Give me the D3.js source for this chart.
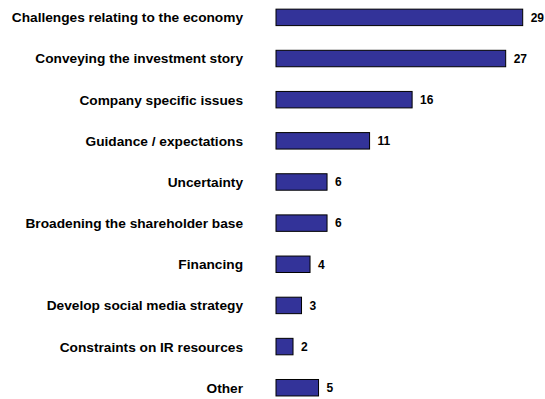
<!DOCTYPE html>
<html>
<head>
<meta charset="utf-8">
<script src="https://cdn.jsdelivr.net/npm/d3@7"></script>
<style>
  html, body { margin: 0; padding: 0; background: #ffffff; }
  svg { display: block; }
</style>
</head>
<body>
<svg id="chart" width="545" height="399"></svg>
<script>
// Issues cited by respondents
const categories = [
  "Challenges relating to the economy",
  "Conveying the investment story",
  "Company specific issues",
  "Guidance / expectations",
  "Uncertainty",
  "Broadening the shareholder base",
  "Financing",
  "Develop social media strategy",
  "Constraints on IR resources",
  "Other"
];
const values = [29, 27, 16, 11, 6, 6, 4, 3, 2, 5];

const svg = d3.select("#chart");

const x = d3.scaleLinear().domain([0, 29]).range([276, 522.7]);
const y = d3.scaleBand()
  .domain(categories)
  .range([-3.2, 408.3])
  .paddingInner(0.6)
  .paddingOuter(0.3);

const font = "'Liberation Sans', Arial, sans-serif";

// bars
svg.append("g")
  .selectAll("rect")
  .data(categories)
  .join("rect")
  .attr("x", x(0))
  .attr("y", d => y(d))
  .attr("width", (d, i) => x(values[i]) - x(0))
  .attr("height", y.bandwidth())
  .attr("fill", "#333399")
  .attr("stroke", "#000000")
  .attr("stroke-width", 1);

// category labels
svg.append("g")
  .selectAll("text")
  .data(categories)
  .join("text")
  .attr("x", 243)
  .attr("y", d => y(d) + y.bandwidth() / 2)
  .attr("dy", "0.36em")
  .attr("text-anchor", "end")
  .attr("font-family", font)
  .attr("font-weight", "bold")
  .attr("font-size", 13.7)
  .attr("fill", "#000000")
  .text(d => d);

// value labels
svg.append("g")
  .selectAll("text")
  .data(categories)
  .join("text")
  .attr("x", (d, i) => x(values[i]) + 8)
  .attr("y", d => y(d) + y.bandwidth() / 2)
  .attr("dy", "0.36em")
  .attr("font-family", font)
  .attr("font-weight", "bold")
  .attr("font-size", 12)
  .attr("fill", "#000000")
  .text((d, i) => values[i]);
</script>
</body>
</html>
